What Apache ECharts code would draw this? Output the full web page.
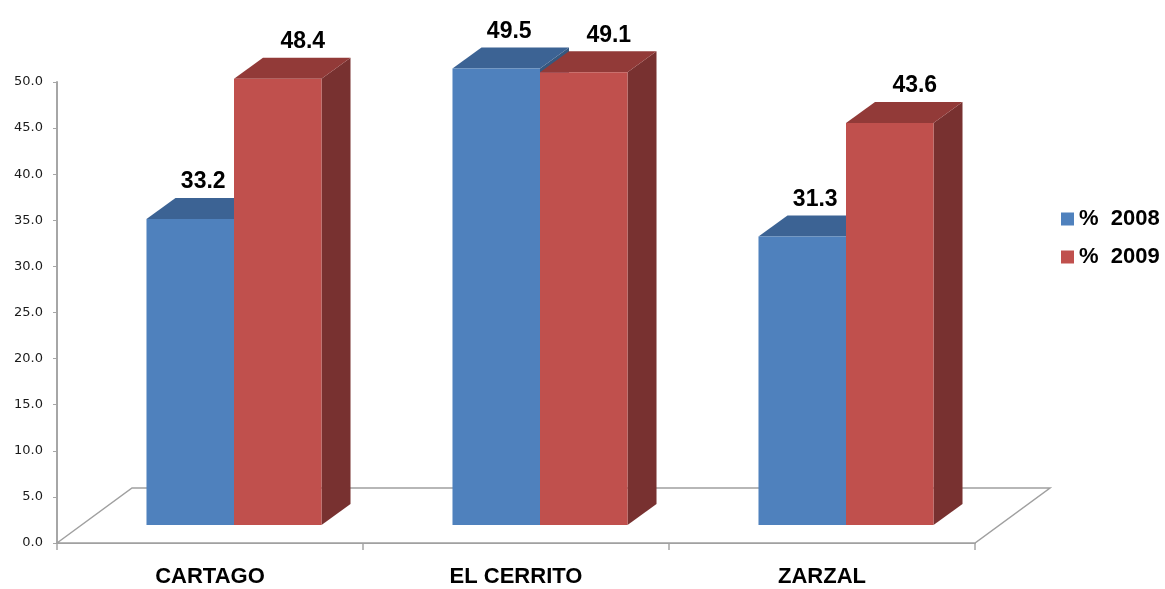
<!DOCTYPE html>
<html>
<head>
<meta charset="utf-8">
<style>
  html, body { margin: 0; padding: 0; background: #ffffff; }
  #chart { width: 1165px; height: 589px; }
</style>
<script src="https://cdn.jsdelivr.net/npm/echarts@6/dist/echarts.min.js"></script>
</head>
<body>
<div id="chart"></div>
<script>
const categories = ['CARTAGO', 'EL CERRITO', 'ZARZAL'];
const values2008 = [33.2, 49.5, 31.3];
const values2009 = [48.4, 49.1, 43.6];
const seriesNames = ['%  2008', '%  2009'];
const yTicks = { min: 0, max: 50, interval: 5 };

// 3D look (pixel styling constants)
const SHIFT_X = 24, SHIFT_Y = 18;   // bars sit midway in floor depth
const DEPTH_X = 29, DEPTH_Y = 21;   // bar depth
const FLOOR_X = 75, FLOOR_Y = 55;   // floor depth
const BAR_RATIO = 0.286;

const palette = [
  { front: '#4F81BD', top: '#3C6394', side: '#36587F', labelDx: 13 },
  { front: '#C0504D', top: '#923A38', side: '#783130', labelDx: 25 }
];

function barRenderer(si) {
  return function (params, api) {
    const idx = api.value(0);
    const v = api.value(1);
    const base = api.coord([idx, 0]);
    const top = api.coord([idx, v]);
    const band = api.size([1, 0])[0];
    const w = band * BAR_RATIO;
    const cx = base[0] + SHIFT_X;
    const x0 = si === 0 ? cx - w : cx;
    const x1 = x0 + w;
    const yb = base[1] - SHIFT_Y;
    const yt = top[1] - SHIFT_Y;
    const c = palette[si];
    return {
      type: 'group',
      children: [
        { type: 'polygon', shape: { points: [[x1, yt], [x1 + DEPTH_X, yt - DEPTH_Y], [x1 + DEPTH_X, yb - DEPTH_Y], [x1, yb]] },
          style: { fill: c.side } },
        { type: 'polygon', shape: { points: [[x0, yt], [x1, yt], [x1 + DEPTH_X, yt - DEPTH_Y], [x0 + DEPTH_X, yt - DEPTH_Y]] },
          style: { fill: c.top } },
        { type: 'rect', shape: { x: x0, y: yt, width: w, height: yb - yt },
          style: { fill: c.front } },
        { type: 'text', x: (x0 + x1) / 2 + c.labelDx, y: yt - DEPTH_Y - 16,
          style: { text: v.toFixed(1), fill: '#000', font: 'bold 23px "Liberation Sans", Arial, sans-serif',
                   align: 'center', verticalAlign: 'middle' } }
      ]
    };
  };
}

function floorRenderer(params, api) {
  const c0 = api.coord([0, 0]);
  const band = api.size([1, 0])[0];
  const left = c0[0] - band / 2;
  const right = left + band * categories.length;
  const y0 = c0[1];
  return {
    type: 'polygon',
    shape: { points: [[left, y0], [left + FLOOR_X, y0 - FLOOR_Y], [right + FLOOR_X, y0 - FLOOR_Y], [right, y0]] },
    style: { fill: '#ffffff', stroke: '#A0A0A0', lineWidth: 1.5 }
  };
}

const chart = echarts.init(document.getElementById('chart'), null, { renderer: 'canvas' });
chart.setOption({
  backgroundColor: '#ffffff',
  animation: false,
  grid: { left: 57, right: 190, top: 82, bottom: 46, containLabel: false },
  legend: {
    data: seriesNames,
    orient: 'vertical',
    left: 1056,
    top: 203,
    itemWidth: 13,
    itemHeight: 13,
    itemGap: 16,
    icon: 'rect',
    textStyle: { color: '#000', fontWeight: 'bold', fontSize: 22, fontFamily: '"Liberation Sans", Arial, sans-serif', lineHeight: 22 }
  },
  xAxis: {
    type: 'category',
    data: categories,
    axisLine: { show: true, lineStyle: { color: '#A6A6A6', width: 2 } },
    axisTick: { show: true, length: 7, interval: 0, lineStyle: { color: '#A6A6A6', width: 1.5 } },
    axisLabel: { color: '#000', fontWeight: 'bold', fontSize: 22, fontFamily: '"Liberation Sans", Arial, sans-serif', margin: 23, interval: 0 },
    splitLine: { show: false }
  },
  yAxis: {
    type: 'value',
    min: yTicks.min,
    max: yTicks.max,
    interval: yTicks.interval,
    axisLine: { show: true, lineStyle: { color: '#A6A6A6', width: 2 } },
    axisTick: { show: true, length: 4, lineStyle: { color: '#A6A6A6' } },
    axisLabel: { color: '#1a1a1a', fontSize: 13, fontFamily: '"DejaVu Sans", Verdana, sans-serif', margin: 14,
                 padding: [4, 0, 0, 0],
                 formatter: function (v) { return v.toFixed(1); } },
    splitLine: { show: false }
  },
  series: [
    { type: 'custom', name: 'floor', renderItem: floorRenderer, data: [[0, 0]], clip: false, z: 1, silent: true },
    { type: 'custom', name: seriesNames[0], renderItem: barRenderer(0), itemStyle: { color: palette[0].front },
      data: values2008.map(function (v, i) { return [i, v]; }), clip: false, z: 2 },
    { type: 'custom', name: seriesNames[1], renderItem: barRenderer(1), itemStyle: { color: palette[1].front },
      data: values2009.map(function (v, i) { return [i, v]; }), clip: false, z: 3 }
  ]
});
</script>
</body>
</html>
